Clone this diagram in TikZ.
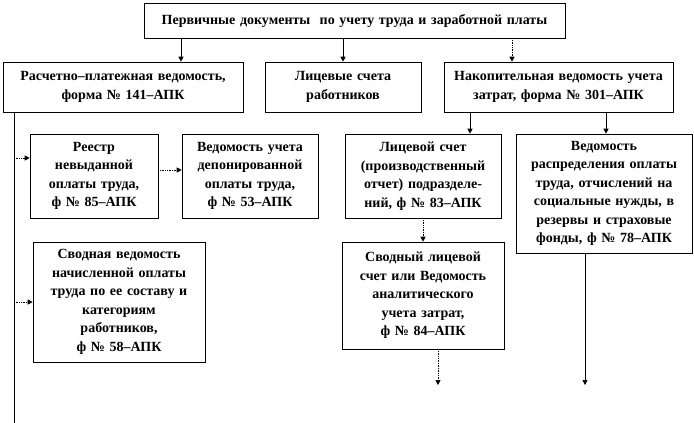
\documentclass[tikz,border=0pt]{standalone}
\usepackage{fontspec}
\setmainfont{Liberation Serif}
\usetikzlibrary{arrows.meta}
\begin{document}
\begin{tikzpicture}[x=1pt,y=-1pt,
  box/.style={draw=black, line width=0.6pt, fill=white, inner sep=1pt, align=center,
    font=\fontsize{14}{18.5}\selectfont\bfseries},
  arr/.style={line width=0.7pt, -{Triangle[width=5pt,length=5pt]}},
  darr/.style={arr, densely dotted},
  ln/.style={line width=0.7pt}]
\useasboundingbox (0,0) rectangle (694,423);
\node[box, minimum width=421, minimum height=35, text width=415] (top) at (354.5,20.5)
  {Первичные документы\ \ по учету труда и заработной платы};
\node[box, minimum width=240, minimum height=50, text width=236] (r141) at (123,87)
  {Расчетно–платежная ведомость,\\ форма № 141–АПК};
\node[box, minimum width=156, minimum height=50, text width=152] (lic) at (343,87)
  {Лицевые счета\\ работников};
\node[box, minimum width=229, minimum height=50, text width=225] (nak) at (558.5,87)
  {Накопительная ведомость учета\\ затрат, форма № 301–АПК};
\node[box, minimum width=128, minimum height=84, text width=124] (reestr) at (94,176)
  {Реестр\\ невыданной\\ оплаты труда,\\ ф № 85–АПК};
\node[box, minimum width=136, minimum height=84, text width=132] (depon) at (250,176)
  {Ведомость учета\\ депонированной\\ оплаты труда,\\ ф № 53–АПК};
\node[box, minimum width=172, minimum height=120, text width=168] (svod58) at (119,302)
  {Сводная ведомость\\ начисленной оплаты\\ труда по ее составу и\\ категориям\\ работников,\\ ф № 58–АПК};
\node[box, minimum width=156, minimum height=84, text width=152] (lic83) at (423,176)
  {Лицевой счет\\ (производственный\\ отчет) подразделе-\\ ний, ф № 83–АПК};
\node[box, minimum width=162, minimum height=107, text width=158] (svod84) at (423,295.5)
  {Сводный лицевой\\ счет или Ведомость\\ аналитического\\ учета затрат,\\ ф № 84–АПК};
\node[box, minimum width=176, minimum height=119, text width=172] (raspr) at (604,193.5)
  {Ведомость\\ распределения оплаты\\ труда, отчислений на\\ социальные нужды, в\\ резервы и страховые\\ фонды, ф № 78–АПК};
% helper coordinates
\coordinate (xa) at (181,0);
\coordinate (xb) at (512,0);
\coordinate (xc) at (470,0);
\coordinate (xd) at (606,0);
\coordinate (xe) at (14,0);
\coordinate (ya) at (0,158);
\coordinate (yb) at (0,170);
\coordinate (xf) at (438,0);
\coordinate (xg) at (585,0);
\coordinate (lineend) at (14,423);
\coordinate (ende) at (438,385);
\coordinate (endf) at (585,385);
% connectors
\draw[arr] (top.south -| xa) -- (r141.north -| xa);
\draw[arr] (top.south -| lic.north) -- (lic.north);
\draw[darr] (top.south -| xb) -- (nak.north -| xb);
\draw[arr] (nak.south -| xc) -- (lic83.north -| xc);
\draw[arr] (nak.south -| xd) -- (raspr.north -| xd);
\draw[ln] (r141.south -| xe) -- (lineend);
\draw[darr] (xe |- ya) -- (reestr.west |- ya);
\draw[darr] (xe |- svod58.west) -- (svod58.west);
\draw[darr] (reestr.east |- yb) -- (depon.west |- yb);
\draw[darr] (lic83.south) -- (svod84.north);
\draw[darr] (svod84.south -| xf) -- (ende);
\draw[arr] (raspr.south -| xg) -- (endf);
\end{tikzpicture}
\end{document}
